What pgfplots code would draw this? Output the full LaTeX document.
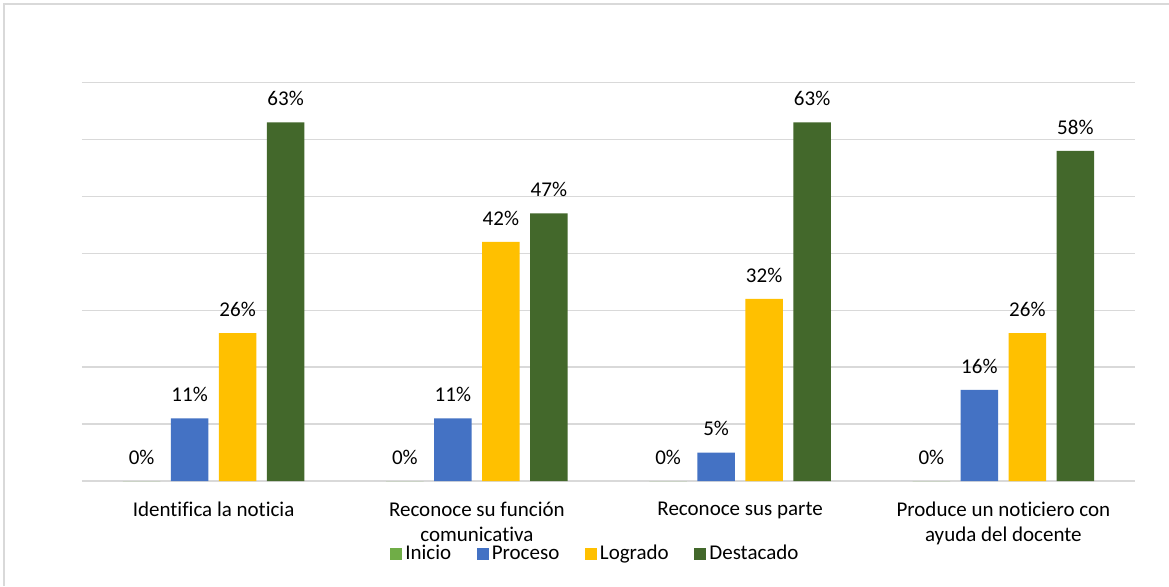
\documentclass[border=0pt]{standalone}
\usepackage{pgfplots}
\pgfplotsset{compat=1.18}
\usepackage{fontspec}
\setmainfont{Carlito}[Ligatures=NoCommon]
\definecolor{cInicio}{HTML}{70AD47}
\definecolor{cProceso}{HTML}{4472C4}
\definecolor{cLogrado}{HTML}{FFC000}
\definecolor{cDestacado}{HTML}{43682B}
\definecolor{gridgray}{HTML}{D9D9D9}
\newcommand{\lblfont}{\fontsize{10.5}{12.5}\selectfont}
\begin{document}
\begin{tikzpicture}
\useasboundingbox (0,0) rectangle (584.5pt,-293pt);
\fill[white] (0,0) rectangle (584.5pt,-293pt);
\draw[gridgray, line width=1pt] (2pt,-293pt) -- (2pt,-2pt) -- (584.5pt,-2pt);
\begin{axis}[
  at={(41pt,-240.5pt)}, anchor=south west,
  scale only axis, width=526.5pt, height=199.25pt,
  xmin=-0.5, xmax=3.5, ymin=0, ymax=70,
  ytick={0,10,...,70}, yticklabels={},
  ymajorgrids, grid style={color=gridgray, line width=0.7pt},
  axis line style={draw=none},
  major tick length=0pt,
  xtick={0,1,2,3},
  xticklabels={Identifica la noticia, {Reconoce su función\\comunicativa}, Reconoce sus parte, {Produce un noticiero con\\ayuda del docente}},
  xticklabel style={font=\lblfont, align=center, anchor=north, yshift=-7pt},
  ybar=5.25pt, bar width=18.75pt,
  /pgf/number format/assume math mode=true,
  nodes near coords={\pgfmathprintnumber{\pgfplotspointmeta}\%},
  every node near coord/.append style={font=\lblfont, anchor=south, inner sep=0pt, yshift=8pt, text=black},
  legend columns=4,
  legend style={at={(0.488,0)}, anchor=center, yshift=-36.5pt, draw=none, fill=none, font=\lblfont,
    /tikz/every even column/.append style={column sep=11.3pt},
    nodes={inner sep=1.5pt}},
  legend image code/.code={\fill[#1] (0pt,-3pt) rectangle (6pt,3pt);},
]
\addplot[fill=cInicio, draw=none] coordinates {(0,0) (1,0) (2,0) (3,0)};
\addplot[fill=cProceso, draw=none] coordinates {(0,11) (1,11) (2,5) (3,16)};
\addplot[fill=cLogrado, draw=none] coordinates {(0,26) (1,42) (2,32) (3,26)};
\addplot[fill=cDestacado, draw=none] coordinates {(0,63) (1,47) (2,63) (3,58)};
\legend{Inicio, Proceso, Logrado, Destacado}
\end{axis}
\end{tikzpicture}
\end{document}
